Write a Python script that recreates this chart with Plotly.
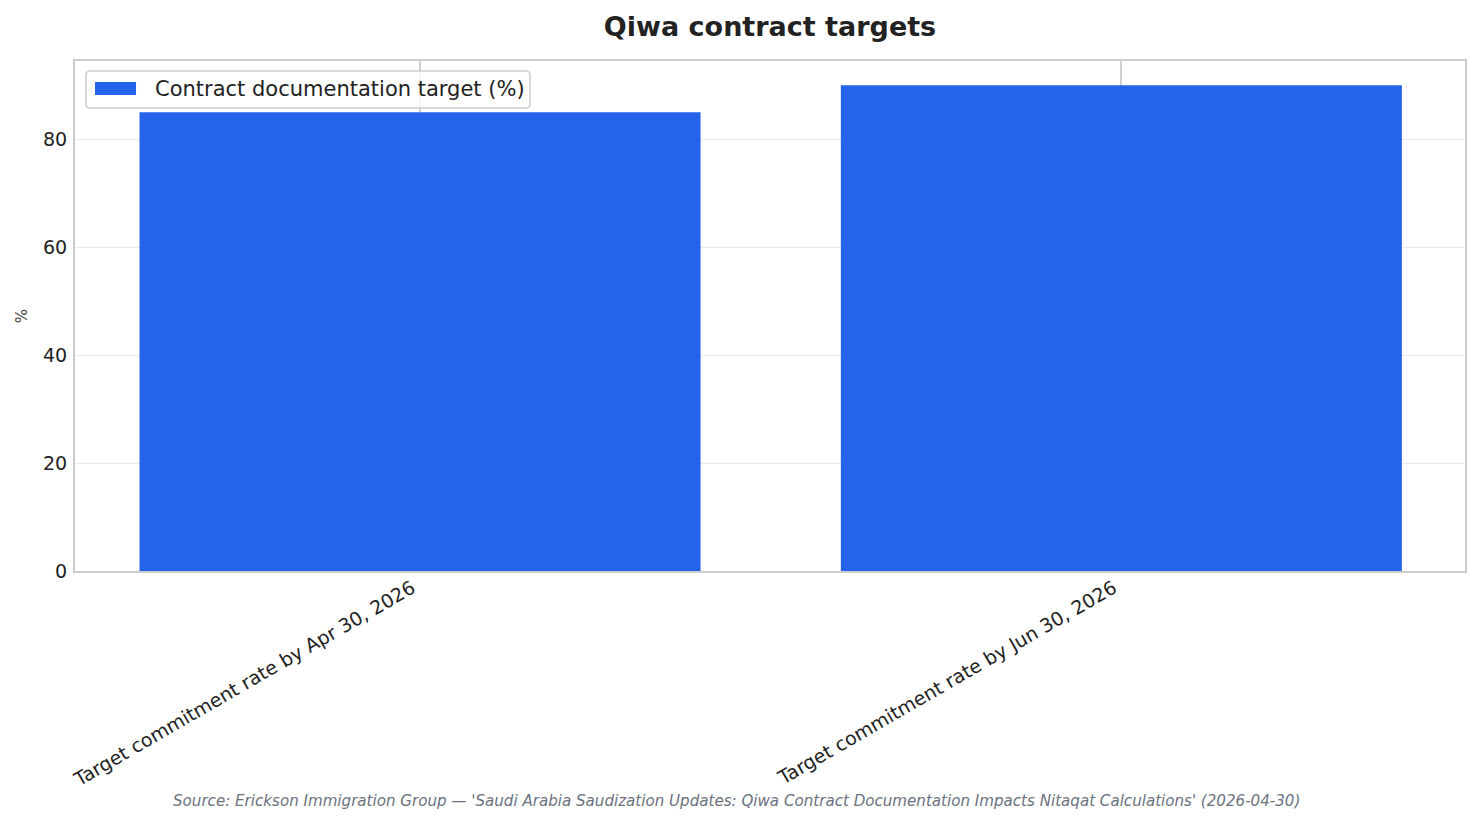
import plotly.graph_objects as go

categories = ["Target commitment rate by Apr 30, 2026", "Target commitment rate by Jun 30, 2026"]
values = [85, 90]
series_name = "Contract documentation target (%)"
title = "Qiwa contract targets"
y_title = "%"
y_ticks = [0, 20, 40, 60, 80]
source = "Source: Erickson Immigration Group — 'Saudi Arabia Saudization Updates: Qiwa Contract Documentation Impacts Nitaqat Calculations' (2026-04-30)"

FONT = "DejaVu Sans"
BAR_COLOR = "#2563EB"

fig = go.Figure()
fig.add_trace(go.Bar(
    x=list(range(len(categories))), y=values, name=series_name, width=0.8,
    marker=dict(color=BAR_COLOR, line=dict(width=0)), showlegend=False,
))

fig.update_layout(
    width=1471, height=816,
    margin=dict(l=67, r=14, t=53, b=253),
    paper_bgcolor="white", plot_bgcolor="white",
    font=dict(family=FONT, color="#222222"),
    title=dict(text="<b>" + title + "</b>", xref="paper", x=0.5, xanchor="center",
               y=0.9767, yanchor="middle",
               font=dict(size=27, family=FONT, color="#222222")),
    showlegend=False,
)

fig.update_xaxes(
    range=[-0.492, 1.49], tickmode="array", tickvals=list(range(len(categories))), ticktext=categories,
    tickangle=-30, tickfont=dict(size=19, family=FONT, color="#222222"),
    ticklabelshift=-8, ticklabelstandoff=-3,
    showgrid=True, gridcolor="#d0d0d0", gridwidth=1.5,
    showline=True, linecolor="#cccccc", linewidth=2, mirror=True,
    ticks="", zeroline=False,
)
fig.update_yaxes(
    range=[0, 94.5], tickmode="array", tickvals=y_ticks,
    tickfont=dict(size=19, family=FONT, color="#222222"),
    showgrid=True, gridcolor="#ececec", gridwidth=1,
    showline=True, linecolor="#cccccc", linewidth=2, mirror=True,
    ticks="", zeroline=False, ticklabelstandoff=2,
)

# y-axis title
fig.add_annotation(
    text=y_title, xref="paper", yref="paper", x=-0.038, y=0.5,
    xanchor="center", yanchor="middle", textangle=-90, showarrow=False,
    font=dict(size=15, family=FONT, color="#444444"),
)

# legend box with rounded corners (paper coords; px converted by plot size 1390x510)
x0, x1, y0, y1 = 0.0079, 0.3273, 0.9078, 0.9804
rx, ry = 4 / 1390, 4 / 510
path = (f"M {x0+rx},{y0} L {x1-rx},{y0} Q {x1},{y0} {x1},{y0+ry} "
        f"L {x1},{y1-ry} Q {x1},{y1} {x1-rx},{y1} "
        f"L {x0+rx},{y1} Q {x0},{y1} {x0},{y1-ry} "
        f"L {x0},{y0+ry} Q {x0},{y0} {x0+rx},{y0} Z")
fig.add_shape(type="path", xref="paper", yref="paper", path=path,
              line=dict(color="#cccccc", width=1.5), fillcolor="rgba(255,255,255,0.8)",
              layer="above")
fig.add_shape(type="rect", xref="paper", yref="paper",
              x0=0.0144, x1=0.0439, y0=0.9333, y1=0.9588,
              line=dict(width=0), fillcolor=BAR_COLOR, layer="above")
fig.add_annotation(
    text=series_name, xref="paper", yref="paper", x=0.0561, y=0.9451,
    xanchor="left", yanchor="middle", showarrow=False,
    font=dict(size=21, family=FONT, color="#222222"),
)

fig.add_annotation(
    text="<i>" + source + "</i>", xref="paper", yref="paper",
    x=0.476, y=-0.451, xanchor="center", yanchor="middle", showarrow=False,
    font=dict(size=15.1, family=FONT, color="#6b7280"),
)

fig.write_html("out.html")
